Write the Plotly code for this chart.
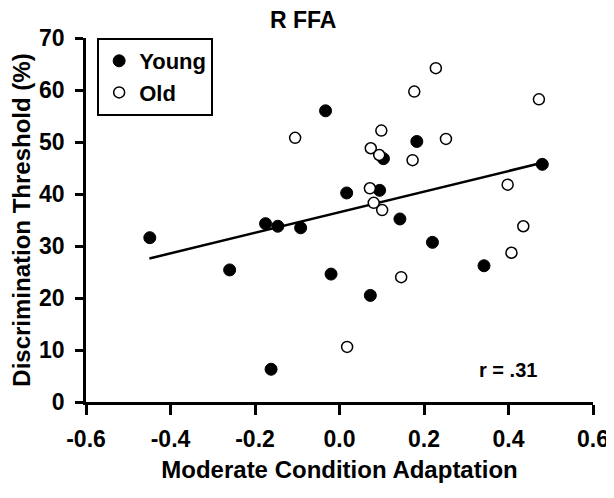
import plotly.graph_objects as go

# Young subjects (filled)
young_x = [-0.449, -0.260, -0.175, -0.162, -0.146, -0.092, -0.033, -0.020, 0.017,
           0.073, 0.095, 0.104, 0.143, 0.183, 0.220, 0.342, 0.480]
young_y = [31.6, 25.4, 34.3, 6.3, 33.8, 33.5, 56.0, 24.6, 40.2,
           20.5, 40.7, 46.8, 35.2, 50.1, 30.7, 26.2, 45.7]

# Old subjects (open)
old_x = [-0.105, 0.018, 0.072, 0.074, 0.081, 0.094, 0.099, 0.101, 0.146,
         0.173, 0.177, 0.228, 0.252, 0.398, 0.407, 0.435, 0.472]
old_y = [50.8, 10.6, 41.1, 48.8, 38.3, 47.5, 52.2, 36.9, 24.0,
         46.5, 59.7, 64.2, 50.6, 41.8, 28.7, 33.8, 58.2]

# regression line end points
fit_x = [-0.45, 0.48]
fit_y = [27.6, 46.0]

x_ticks = [-0.6, -0.4, -0.2, 0.0, 0.2, 0.4, 0.6]
x_labels = ["-0.6", "-0.4", "-0.2", "0.0", "0.2", "0.4", "0.6"]
y_ticks = [0, 10, 20, 30, 40, 50, 60, 70]

font = dict(family="Liberation Sans, Arial, sans-serif", color="black", weight="bold")

fig = go.Figure()
fig.add_trace(go.Scatter(x=fit_x, y=fit_y, mode="lines", showlegend=False,
                         line=dict(color="black", width=2.5)))
fig.add_trace(go.Scatter(x=young_x, y=young_y, mode="markers", name="Young",
                         marker=dict(symbol="circle", size=12, color="black",
                                     line=dict(color="black", width=1))))
fig.add_trace(go.Scatter(x=old_x, y=old_y, mode="markers", name="Old",
                         marker=dict(symbol="circle", size=11, color="white",
                                     line=dict(color="black", width=1.5))))

# title as an annotation above the plot area
fig.add_annotation(x=0.428, y=1.0, xref="paper", yref="paper", text="R FFA",
                   showarrow=False, yanchor="middle", yshift=18,
                   font=dict(size=23, **font))
fig.add_annotation(x=0.398, y=6.1, text="r = .31", showarrow=False,
                   font=dict(size=20, **font))

# the page body has an 8px margin, so the figure is sized to fit inside it
fig.update_layout(
    width=606, height=482,
    margin=dict(l=78, r=21, t=30, b=88),
    paper_bgcolor="white", plot_bgcolor="white",
    font=dict(size=22, **font),
    legend=dict(x=0.022, y=1.0, xanchor="left", yanchor="top",
                bordercolor="black", borderwidth=2, bgcolor="white",
                font=dict(size=22, **font), itemsizing="trace",
                tracegroupgap=0),
    xaxis=dict(range=[-0.6, 0.6], tickvals=x_ticks, ticktext=x_labels,
               showgrid=False, zeroline=False, showline=True, linecolor="black",
               linewidth=2.5, ticks="outside", ticklen=10, tickwidth=2.5,
               tickcolor="black", tickfont=dict(size=23, **font),
               ticklabelstandoff=5, automargin=False,
               title=dict(text="Moderate Condition Adaptation", standoff=10,
                          font=dict(size=24, **font))),
    yaxis=dict(range=[0, 70], tickvals=y_ticks,
               showgrid=False, zeroline=False, showline=True, linecolor="black",
               linewidth=2.5, ticks="outside", ticklen=8, tickwidth=2.5,
               tickcolor="black", tickfont=dict(size=23, **font),
               ticklabelstandoff=6, automargin=False,
               title=dict(text="Discrimination Threshold (%)", standoff=12,
                          font=dict(size=24, **font))),
)

fig.write_html("out.html")
